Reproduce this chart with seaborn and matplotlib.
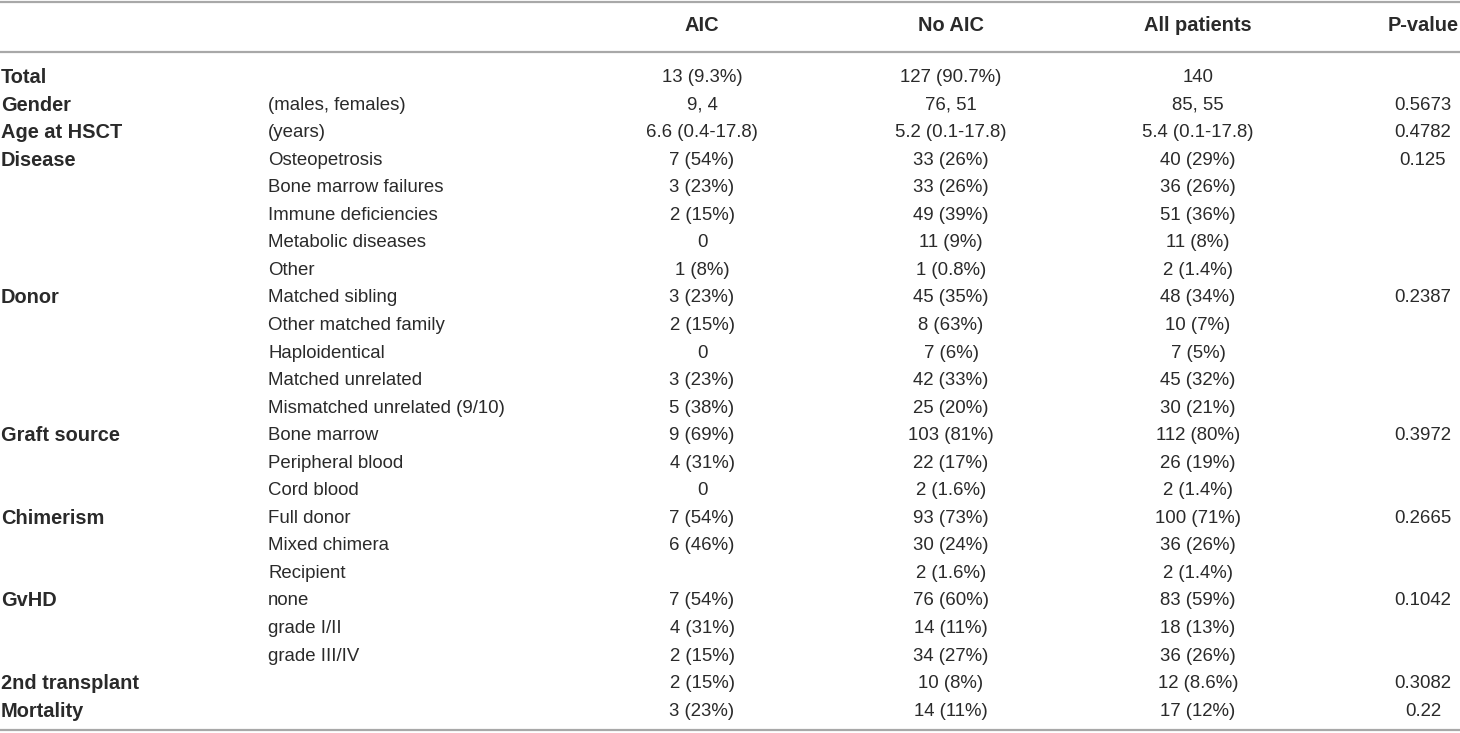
import matplotlib
matplotlib.use("Agg")
import matplotlib.pyplot as plt
import seaborn as sns
import pandas as pd

headers = ["", "", "AIC", "No AIC", "All patients", "P-value"]

groups = ["Total", "Gender", "Age at HSCT", "Disease", "", "", "", "",
          "Donor", "", "", "", "", "Graft source", "", "",
          "Chimerism", "", "", "GvHD", "", "", "2nd transplant", "Mortality"]

subgroups = ["", "(males, females)", "(years)", "Osteopetrosis", "Bone marrow failures",
             "Immune deficiencies", "Metabolic diseases", "Other",
             "Matched sibling", "Other matched family", "Haploidentical",
             "Matched unrelated", "Mismatched unrelated (9/10)",
             "Bone marrow", "Peripheral blood", "Cord blood",
             "Full donor", "Mixed chimera", "Recipient",
             "none", "grade I/II", "grade III/IV", "", ""]

aic = ["13 (9.3%)", "9, 4", "6.6 (0.4-17.8)", "7 (54%)", "3 (23%)", "2 (15%)", "0", "1 (8%)",
       "3 (23%)", "2 (15%)", "0", "3 (23%)", "5 (38%)",
       "9 (69%)", "4 (31%)", "0",
       "7 (54%)", "6 (46%)", "",
       "7 (54%)", "4 (31%)", "2 (15%)", "2 (15%)", "3 (23%)"]

no_aic = ["127 (90.7%)", "76, 51", "5.2 (0.1-17.8)", "33 (26%)", "33 (26%)", "49 (39%)", "11 (9%)", "1 (0.8%)",
          "45 (35%)", "8 (63%)", "7 (6%)", "42 (33%)", "25 (20%)",
          "103 (81%)", "22 (17%)", "2 (1.6%)",
          "93 (73%)", "30 (24%)", "2 (1.6%)",
          "76 (60%)", "14 (11%)", "34 (27%)", "10 (8%)", "14 (11%)"]

all_patients = ["140", "85, 55", "5.4 (0.1-17.8)", "40 (29%)", "36 (26%)", "51 (36%)", "11 (8%)", "2 (1.4%)",
                "48 (34%)", "10 (7%)", "7 (5%)", "45 (32%)", "30 (21%)",
                "112 (80%)", "26 (19%)", "2 (1.4%)",
                "100 (71%)", "36 (26%)", "2 (1.4%)",
                "83 (59%)", "18 (13%)", "36 (26%)", "12 (8.6%)", "17 (12%)"]

pvalues = ["", "0.5673", "0.4782", "0.125", "", "", "", "",
           "0.2387", "", "", "", "", "0.3972", "", "",
           "0.2665", "", "", "0.1042", "", "", "0.3082", "0.22"]

df = pd.DataFrame({"group": groups, "sub": subgroups, "aic": aic,
                   "no_aic": no_aic, "all": all_patients, "p": pvalues})

sns.set_theme(style="white")
plt.rcParams['font.family'] = ['Liberation Sans', 'DejaVu Sans']

W, H = 1460, 733
fig = plt.figure(figsize=(W / 100, H / 100), dpi=100)
ax = fig.add_axes([0, 0, 1, 1])
ax.set_xlim(0, W)
ax.set_ylim(H, 0)
ax.axis("off")

txt = "#2a2a2a"
line_c = "#a8a8a8"
fs = 13.4
fs_b = 14.4

# column anchors (x, ha)
col_x = [1, 268, 702, 951, 1198, 1423]
col_ha = ["left", "left", "center", "center", "center", "center"]

# header
header_y = 25.5
for x, ha, h in zip(col_x, col_ha, headers):
    if h:
        ax.text(x, header_y, h, ha=ha, va="center", fontsize=fs_b, fontweight="bold", color=txt)

row0 = 77.5
step = 27.55
cols = ["group", "sub", "aic", "no_aic", "all", "p"]
for i, row in df.iterrows():
    y = row0 + i * step
    for j, c in enumerate(cols):
        s = row[c]
        if not s:
            continue
        bold = j == 0
        ax.text(col_x[j], y, s, ha=col_ha[j], va="center",
                fontsize=fs_b if bold else fs,
                fontweight="bold" if bold else "normal", color=txt)

for yy in (2, 51.5, 730):
    ax.axhline(yy, color=line_c, lw=1.6)

fig.savefig("out.png", dpi=100)
